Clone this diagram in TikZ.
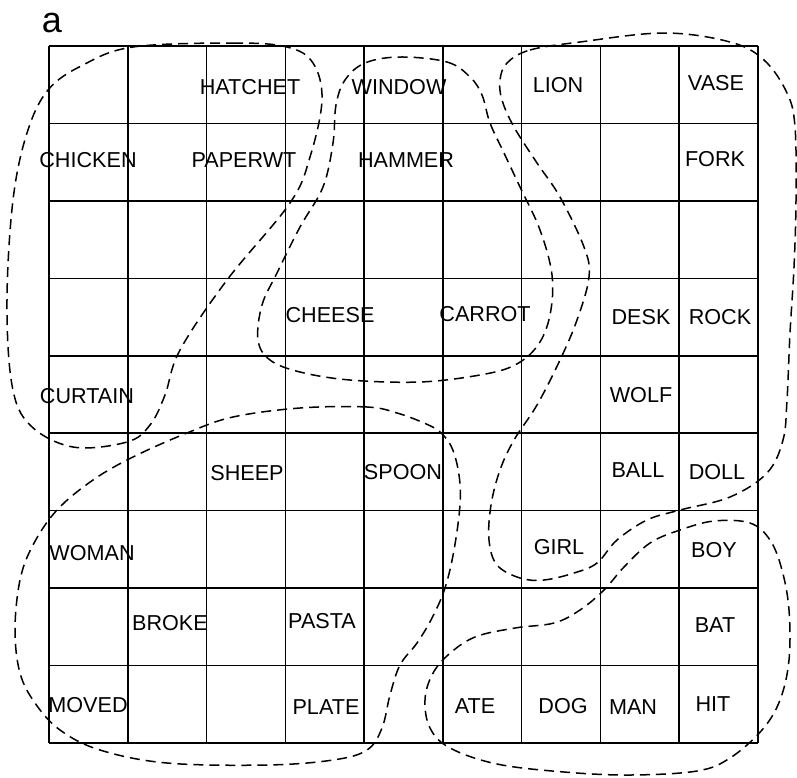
\documentclass[tikz,border=0pt]{standalone}
\usepackage{fontspec}
\setmainfont{Liberation Sans}

\begin{document}
\begin{tikzpicture}[
  x=1pt, y=-1pt,
  font=\fontsize{21.6}{26}\selectfont,
  word/.style={inner sep=0pt, anchor=center},
  gridline/.style={line width=1.6pt},
  cluster/.style={dash pattern=on 10pt off 6pt, line width=1.5pt}
]
\useasboundingbox (0,0) rectangle (797,777);

\node[font=\fontsize{36}{40}\selectfont] (panel) at (52,23) {a};

% 9 x 9 grid
\foreach \i in {0,...,9}
  \draw[gridline] ({49+78.78*\i},46) -- ({49+78.78*\i},743);
\foreach \j in {0,...,9}
  \draw[gridline] (49,{46+77.44*\j}) -- (758,{46+77.44*\j});

% words
\node[word] (hatchet) at (250,87) {HATCHET};
\node[word] (window) at (399,87) {WINDOW};
\node[word] (lion) at (558,85) {LION};
\node[word] (vase) at (716,83) {VASE};
\node[word] (chicken) at (88,160) {CHICKEN};
\node[word] (paperwt) at (244,160) {PAPERWT};
\node[word] (hammer) at (406,160) {HAMMER};
\node[word] (fork) at (715,159) {FORK};
\node[word] (cheese) at (330,315) {CHEESE};
\node[word] (carrot) at (485,314) {CARROT};
\node[word] (desk) at (641,317) {DESK};
\node[word] (rock) at (720,317) {ROCK};
\node[word] (curtain) at (87,396) {CURTAIN};
\node[word] (wolf) at (641,395) {WOLF};
\node[word] (sheep) at (247,473) {SHEEP};
\node[word] (spoon) at (403,472) {SPOON};
\node[word] (ball) at (638,470) {BALL};
\node[word] (doll) at (717,472) {DOLL};
\node[word] (woman) at (92,553) {WOMAN};
\node[word] (girl) at (559,547) {GIRL};
\node[word] (boy) at (714,550) {BOY};
\node[word] (broke) at (170,623) {BROKE};
\node[word] (pasta) at (322,621) {PASTA};
\node[word] (bat) at (715,625) {BAT};
\node[word] (moved) at (88,705) {MOVED};
\node[word] (plate) at (326,707) {PLATE};
\node[word] (ate) at (475,706) {ATE};
\node[word] (dog) at (563,706) {DOG};
\node[word] (man) at (633,707) {MAN};
\node[word] (hit) at (713,704) {HIT};

% clusters
\draw[cluster] plot[smooth cycle, tension=0.6] coordinates {
  (133,47) (233,43) (287,47) (313,63) (322,100) (310,157) (290,203)
  (227,280) (180,350) (165,395) (150,425) (127,442) (73,447) (30,425)
  (12,385) (7,300) (13,200) (27,133) (48,90) (83,65)};
\draw[cluster] plot[smooth cycle, tension=0.6] coordinates {
  (400,57) (447,62) (470,77) (482,95) (490,123) (504,153) (520,187)
  (540,230) (552,275) (550,315) (538,345) (515,365) (480,375) (420,382)
  (350,380) (300,372) (270,360) (258,340) (262,305) (277,273) (300,227)
  (323,187) (333,143) (336,105) (345,80) (365,63)};
\draw[cluster] plot[smooth cycle, tension=0.6] coordinates {
  (507,63) (530,50) (580,42) (664,33) (730,42) (764,60) (787,93)
  (795,127) (796,200) (794,267) (790,333) (787,400) (783,440) (767,473)
  (730,497) (680,510) (647,520) (617,540) (597,563) (574,573) (544,580)
  (520,578) (497,565) (489,540) (491,505) (500,470) (514,440) (537,405)
  (560,360) (577,320) (589,277) (584,247) (560,197) (537,163) (514,127)
  (502,100) (500,80)};
\draw[cluster] plot[smooth cycle, tension=0.6] coordinates {
  (397,413) (367,407) (300,408) (233,417) (187,433) (133,457) (93,480)
  (57,510) (33,545) (20,580) (15,630) (20,673) (35,703) (60,730)
  (100,750) (167,763) (267,765) (333,760) (367,750) (382,728) (390,695)
  (400,665) (417,643) (432,618) (445,588) (454,550) (460,505) (459,475)
  (452,448) (440,432) (424,423)};
\draw[cluster] plot[smooth cycle, tension=0.6] coordinates {
  (714,521) (750,523) (770,540) (782,570) (789,610) (789,660) (780,700)
  (762,730) (730,758) (697,771) (630,775) (564,772) (497,764) (450,748)
  (430,728) (425,700) (432,675) (448,655) (475,637) (515,628) (554,623)
  (580,610) (604,590) (624,567) (650,543) (680,530)};

\end{tikzpicture}
\end{document}
